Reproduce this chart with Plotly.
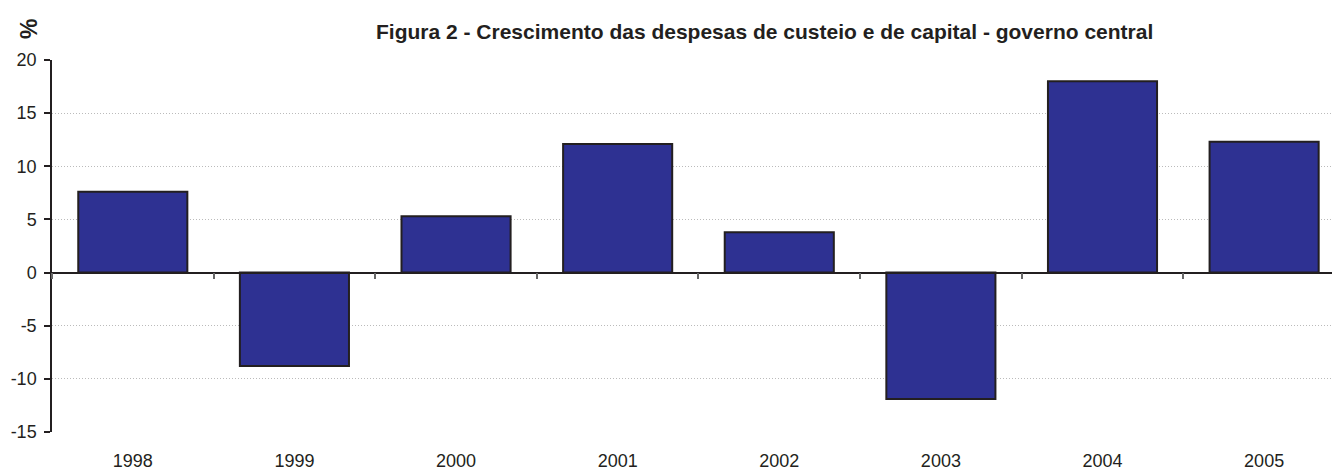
import plotly.graph_objects as go

years = ["1998", "1999", "2000", "2001", "2002", "2003", "2004", "2005"]
growth = [7.6, -8.8, 5.3, 12.1, 3.8, -11.9, 18.0, 12.3]
y_ticks = [-15, -10, -5, 0, 5, 10, 15, 20]
y_tick_labels = ["-15", "-10", "-5", "0", "5", "10", "15", "20"]

title_text = "Figura 2 - Crescimento das despesas de custeio e de capital - governo central"
y_unit = "%"

FONT = "Liberation Sans, Arial, sans-serif"
TXT = "#231F20"

fig = go.Figure()
fig.add_trace(go.Bar(
    x=years, y=growth,
    marker=dict(color="#2E3192", line=dict(color="#231F20", width=2)),
    width=0.675,
    showlegend=False,
))
# invisible trace on the second x axis so it renders
fig.add_trace(go.Bar(x=years, y=[None]*len(years), xaxis="x2", showlegend=False, hoverinfo="skip"))

x_range = [-0.5, 7.42]
y0_frac = 15 / 35

fig.update_layout(
    width=1334, height=473,
    margin=dict(l=52, r=2, t=60, b=36),
    plot_bgcolor="white", paper_bgcolor="white",
    font=dict(family=FONT, color=TXT, size=18),
    bargap=0.325,
    xaxis=dict(
        type="category", range=x_range,
        showline=False, showgrid=False, zeroline=False,
        ticks="", ticklabelstandoff=16,
        tickfont=dict(size=18, color=TXT),
    ),
    xaxis2=dict(
        type="category", range=x_range, overlaying="x",
        anchor="free", position=y0_frac,
        showline=True, linecolor="#231F20", linewidth=1.5,
        ticks="outside", tickson="boundaries", ticklen=6, tickcolor="#666",
        tickwidth=1.5, showticklabels=False, showgrid=False, zeroline=False,
    ),
    yaxis=dict(
        range=[-15, 20], tickvals=y_ticks, ticktext=y_tick_labels,
        showline=True, linecolor="#231F20", linewidth=1.5,
        ticks="outside", ticklen=6, tickcolor="#231F20", tickwidth=1.5,
        ticklabelstandoff=4,
        showgrid=True, gridcolor="#BBBBBB", griddash="1px,2px", gridwidth=1,
        zeroline=False,
        tickfont=dict(size=18, color=TXT),
    ),
    annotations=[
        dict(text="<b>" + title_text + "</b>", xref="paper", yref="paper",
             x=(764 - 52) / 1280, y=1, xanchor="center", yanchor="middle",
             yshift=29, showarrow=False, font=dict(size=21, color=TXT, family=FONT)),
        dict(text="<b>" + y_unit + "</b>", xref="paper", yref="paper",
             x=0, y=1, xanchor="center", yanchor="middle", xshift=-23, yshift=31,
             textangle=-90, showarrow=False, font=dict(size=23, color=TXT, family=FONT)),
    ],
)

fig.write_html("out.html")
